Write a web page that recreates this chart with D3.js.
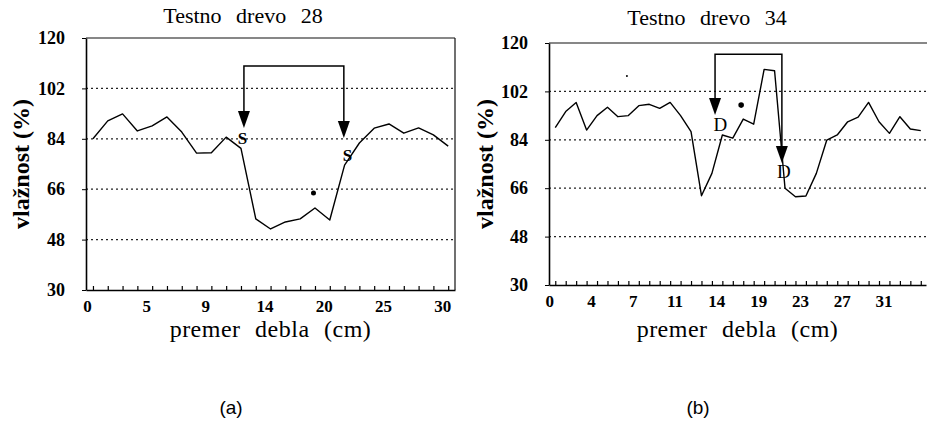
<!DOCTYPE html>
<html>
<head>
<meta charset="utf-8">
<script src="https://cdn.jsdelivr.net/npm/d3@7"></script>
<style>
  body { margin: 0; background: #fff; }
  svg { display: block; }
  svg text { font-family: "Liberation Serif", "Tinos", "DejaVu Serif", serif; }
  svg text.tag { font-family: "Liberation Sans", Arial, sans-serif; }
</style>
</head>
<body>
<script>
// y axis values shared by both panels
const yTicks = [30, 48, 66, 84, 102, 120];
const gridValues = [48, 66, 84, 102];

// panel (a) - Testno drevo 28
const labelsA = ["0", "5", "9", "14", "20", "25", "30"];
const valuesA = [84, 90.4, 92.9, 86.8, 88.6, 91.8, 86.4, 78.9, 79, 84.6, 80.6, 55.4, 51.8,
  54.3, 55.4, 59.3, 55, 74.6, 82.5, 87.8, 89.3, 86, 87.9, 85.4, 81.4];
const arrowsA = [[10.2, 87.9], [16.95, 84.3]];   // [index, tip value]
const arrowTopA = 110;
const lettersA = [["S", 10.1, 84.3], ["S", 17.2, 78.2]];
const dotsA = [[14.9, 64.6, 2.5]];

// panel (b) - Testno drevo 34
const labelsB = ["0", "4", "7", "11", "14", "19", "23", "27", "31"];
const valuesB = [88.5, 94.5, 97.9, 87.6, 93, 96.1, 92.6, 93, 96.7, 97.2, 95.7, 97.9, 93, 87,
  63.2, 71.5, 85.8, 84.6, 91.7, 89.8, 110.2, 109.7, 66, 62.8, 63.1, 71.5, 83.9, 85.8, 90.7,
  92.4, 97.9, 90.7, 86.4, 92.6, 88, 87.4];
const arrowsB = [[15.3, 93.2], [21.7, 75.4]];
const arrowTopB = 115.8;
const lettersB = [["D", 15.8, 89.9], ["D", 21.9, 72.1]];
const dotsB = [[17.8, 96.9, 2.8], [6.86, 107.7, 1]];

const width = 927, height = 443;

const svg = d3.select("body").append("svg")
  .attr("width", width)
  .attr("height", height);

function drawPanel(cfg) {
  var x = d3.scaleLinear().domain(cfg.xDomain).range([cfg.left, cfg.right]);
  var y = d3.scaleLinear().domain([30, 120]).range([cfg.bottom, cfg.top]);
  var g = svg.append("g");

  // dotted grid
  g.selectAll(".grid").data(gridValues).enter().append("line")
    .attr("x1", cfg.left).attr("x2", cfg.gridEnd)
    .attr("y1", d => y(d)).attr("y2", d => y(d))
    .attr("stroke", "#222").attr("stroke-width", 1.2)
    .attr("stroke-dasharray", "2,3");

  // frame
  g.append("line").attr("x1", cfg.left).attr("x2", cfg.gridEnd)
    .attr("y1", cfg.top).attr("y2", cfg.top)
    .attr("stroke", "#111").attr("stroke-width", 1.2);
  if (cfg.rightBorder) {
    g.append("line").attr("x1", cfg.right).attr("x2", cfg.right)
      .attr("y1", cfg.top).attr("y2", cfg.bottom)
      .attr("stroke", "#111").attr("stroke-width", 1.2);
  }

  // y axis
  var yAxis = g.append("g")
    .attr("transform", "translate(" + cfg.left + ",0)")
    .call(d3.axisLeft(y).tickValues(yTicks).tickSize(4).tickPadding(17).tickSizeOuter(0));
  yAxis.attr("font-family", null);
  yAxis.select(".domain").attr("stroke", "#000").attr("stroke-width", 1.6);
  yAxis.selectAll("text")
    .style("font-size", "18px").style("font-weight", "bold")
    .attr("fill", "#000");

  // x axis: small inward ticks at every sample, labels on every fourth
  var idx = d3.range(cfg.values.length);
  var xTicks = g.append("g")
    .attr("transform", "translate(0," + cfg.bottom + ")")
    .call(d3.axisBottom(x).tickValues(idx).tickSize(-4).tickFormat("").tickSizeOuter(0));
  xTicks.select(".domain").attr("stroke", "#000").attr("stroke-width", 1.6);
  xTicks.selectAll(".tick line").attr("stroke", "#000").attr("stroke-width", 1.2);

  var labelIdx = cfg.labels.map((d, i) => i * 4);
  var xLabels = g.append("g")
    .attr("transform", "translate(0," + cfg.bottom + ")")
    .call(d3.axisBottom(x).tickValues(labelIdx)
      .tickFormat((d, i) => cfg.labels[i]).tickSize(0).tickPadding(10));
  xLabels.attr("font-family", null);
  xLabels.select(".domain").remove();
  xLabels.selectAll("text")
    .attr("dx", -6)
    .style("font-size", "17px").style("font-weight", "bold")
    .attr("fill", "#000");

  // moisture profile
  var line = d3.line().x((d, i) => x(i)).y(d => y(d));
  g.append("path").datum(cfg.values)
    .attr("d", line)
    .attr("fill", "none").attr("stroke", "#000").attr("stroke-width", 1.4)
    .attr("stroke-linejoin", "round");

  // bracket with two arrows
  var a0 = cfg.arrows[0], a1 = cfg.arrows[1];
  g.append("path")
    .attr("d", "M" + x(a0[0]) + "," + (y(a0[1]) - 15) +
      "V" + y(cfg.arrowTop) + "H" + x(a1[0]) + "V" + (y(a1[1]) - 15))
    .attr("fill", "none").attr("stroke", "#000").attr("stroke-width", 1.5);
  g.selectAll(".head").data(cfg.arrows).enter().append("path")
    .attr("d", d => {
      var px = x(d[0]), py = y(d[1]);
      return "M" + (px - 6) + "," + (py - 17) + "L" + (px + 6) + "," + (py - 17) + "L" + px + "," + py + "Z";
    })
    .attr("fill", "#000");

  g.selectAll(".letter").data(cfg.letters).enter().append("text")
    .attr("x", d => x(d[1])).attr("y", d => y(d[2]))
    .attr("text-anchor", "middle").attr("dy", "0.35em")
    .style("font-size", cfg.letterSize)
    .style("font-weight", cfg.letterWeight)
    .text(d => d[0]);

  g.selectAll(".dot").data(cfg.dots).enter().append("circle")
    .attr("cx", d => x(d[0])).attr("cy", d => y(d[1])).attr("r", d => d[2])
    .attr("fill", "#000");

  // texts
  svg.append("text")
    .attr("x", cfg.titleX).attr("y", cfg.titleY)
    .attr("text-anchor", "middle")
    .style("font-size", "22px")
    .style("word-spacing", "9px")
    .text(cfg.title);

  svg.append("text")
    .attr("transform", "translate(" + cfg.yLabelX + "," + ((cfg.top + cfg.bottom) / 2) + ") rotate(-90)")
    .attr("text-anchor", "middle").attr("dy", "0.35em")
    .style("font-size", "24px").style("font-weight", "bold")
    .text("vlažnost (%)");

  svg.append("text")
    .attr("x", (cfg.left + cfg.right) / 2).attr("y", 337)
    .attr("text-anchor", "middle")
    .style("font-size", "24px")
    .style("word-spacing", "8px").style("letter-spacing", "0.5px")
    .text("premer debla (cm)");

  svg.append("text")
    .attr("class", "tag")
    .attr("x", cfg.tagX).attr("y", 414)
    .attr("text-anchor", "middle")
    .style("font-size", "19px")
    .text(cfg.tag);
}

drawPanel({
  values: valuesA, labels: labelsA, arrows: arrowsA, arrowTop: arrowTopA,
  letters: lettersA, dots: dotsA, letterSize: "17px", letterWeight: "bold",
  xDomain: [-0.47, 24.46], left: 86, right: 455, gridEnd: 455, top: 38, bottom: 290,
  rightBorder: true, title: "Testno drevo 28", titleX: 243, titleY: 23,
  yLabelX: 21, tag: "(a)", tagX: 231
});

drawPanel({
  values: valuesB, labels: labelsB, arrows: arrowsB, arrowTop: arrowTopB,
  letters: lettersB, dots: dotsB, letterSize: "19px", letterWeight: "normal",
  xDomain: [-0.6, 35.5], left: 549, right: 926, gridEnd: 927, top: 43, bottom: 285,
  rightBorder: false, title: "Testno drevo 34", titleX: 707, titleY: 25,
  yLabelX: 485, tag: "(b)", tagX: 698
});
</script>
</body>
</html>
